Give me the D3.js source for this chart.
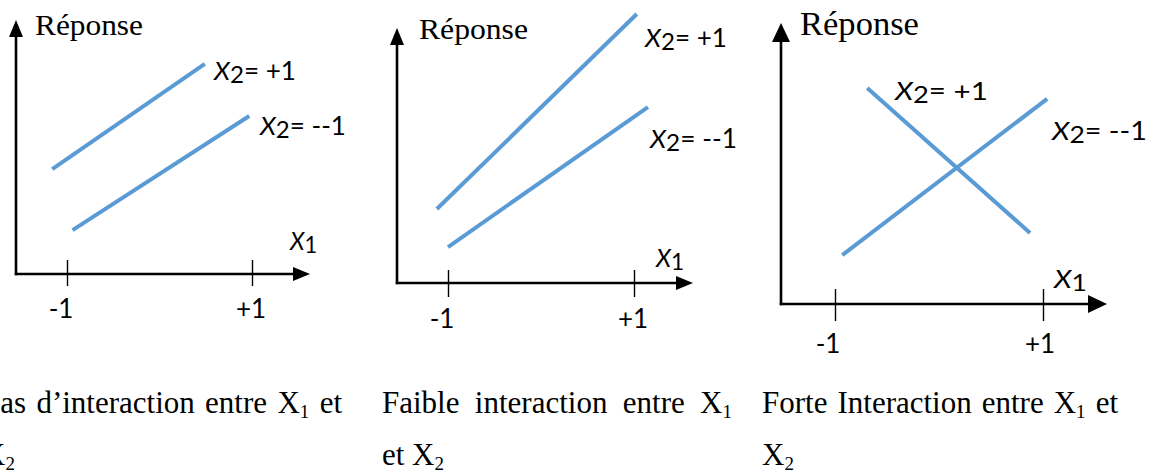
<!DOCTYPE html>
<html>
<head>
<meta charset="utf-8">
<script src="https://cdn.jsdelivr.net/npm/d3@7"></script>
<style>
  html, body { margin: 0; padding: 0; background: #fff; overflow: hidden; }
  svg { display: block; }
</style>
</head>
<body>
<svg id="chart" width="1160" height="473"></svg>
<script>
// Levels of factor X1 marked on each horizontal axis
const x1Levels = [-1, 1];
const x1TickLabels = ["-1", "+1"];

// Levels of factor X2 (one line each) and their label values
const x2Levels = ["+1", "-1"];
const x2LabelValues = ["+1", "--1"];

// Response segments, as [X1, response] at each end (response 0 = horizontal axis, 10 = top of vertical axis)
const noInteractionPlus = [[-1.16, 4.13], [0.49, 8.27]];
const noInteractionMinus = [[-0.94, 1.73], [0.97, 6.22]];
const weakInteractionPlus = [[-1.12, 2.90], [1.03, 10.55]];
const weakInteractionMinus = [[-1.00, 1.41], [1.15, 6.90]];
const strongInteractionPlus = [[-0.69, 7.69], [0.875, 2.53]];
const strongInteractionMinus = [[-0.93, 1.74], [1.04, 7.30]];

// Captions under each diagram: justified first line, then last line
const captionLines = [
  [["Pas d\u2019interaction entre X", "1", " et"], ["X", "2", ""]],
  [["Faible interaction entre X", "1", ""], ["et X", "2", ""]],
  [["Forte Interaction entre X", "1", " et"], ["X", "2", ""]]
];

const BLUE = "#5b9bd5";
const SERIF = "'Liberation Serif', 'Times New Roman', serif";
const SANS = "Lato, 'Open Sans', 'Noto Sans', sans-serif";

// Geometry of each diagram
const panels = [
  {
    series: [noInteractionPlus, noInteractionMinus],
    axisX: 16, axisY: 274, arrowRight: 310, arrowTop: 20,
    tickPx: [67, 252], tickUp: 14, tickDown: 12, arrowLen: 17, arrowHalf: 7,
    yLabel: { x: 35, y: 35, w: 108 }, yLabelSize: 29,
    x1Label: { x: 290, y: 250, w: 28 },
    x2Label: [{ x: 214, y: 80, w: 83 }, { x: 260, y: 135, w: 87 }],
    tickLabelY: 318, tickLabelDx: [-6, -1]
  },
  {
    series: [weakInteractionPlus, weakInteractionMinus],
    axisX: 397, axisY: 283, arrowRight: 693, arrowTop: 28,
    tickPx: [448, 634], tickUp: 13, tickDown: 14, arrowLen: 17, arrowHalf: 7,
    yLabel: { x: 419, y: 39, w: 109 }, yLabelSize: 29,
    x1Label: { x: 656, y: 267, w: 29 },
    x2Label: [{ x: 645, y: 47, w: 83 }, { x: 650, y: 148, w: 88 }],
    tickLabelY: 328, tickLabelDx: [-6, -1]
  },
  {
    series: [strongInteractionPlus, strongInteractionMinus],
    axisX: 781, axisY: 304, arrowRight: 1107, arrowTop: 23,
    tickPx: [835, 1043], tickUp: 15, tickDown: 17, arrowLen: 19, arrowHalf: 9,
    yLabel: { x: 800, y: 35, w: 119 }, yLabelSize: 33,
    x1Label: { x: 1054, y: 288, w: 34 },
    x2Label: [{ x: 895, y: 100, w: 94 }, { x: 1052, y: 140, w: 96 }],
    tickLabelY: 353, tickLabelDx: [-7, -3]
  }
];

const captionLayout = [
  { x: -17, end: 342 },
  { x: 382, end: 732 },
  { x: 762, end: 1118 }
];
const captionBaselines = [413, 465];

const svg = d3.select("#chart");

// Place a text label and stretch it horizontally to the given width
function fitLabel(g, pos, parts, family, size) {
  const wrap = g.append("g");
  const t = wrap.append("text")
    .attr("x", 0).attr("y", 0)
    .attr("font-family", family)
    .attr("font-size", size)
    .attr("fill", "#000");
  parts.forEach(p => {
    const s = t.append("tspan").text(p.t);
    if (p.italic) s.attr("font-style", "italic");
    if (p.size) s.attr("font-size", p.size);
    if (p.dy) s.attr("dy", p.dy);
  });
  const w = t.node().getBBox().width;
  const k = pos.w ? pos.w / w : 1;
  wrap.attr("transform", `translate(${pos.x},${pos.y}) scale(${k},1)`);
  return wrap;
}

function arrowHead(g, tipX, tipY, dir, len, half) {
  const pts = dir === "up"
    ? [[tipX, tipY], [tipX - half, tipY + len], [tipX + half, tipY + len]]
    : [[tipX, tipY], [tipX - len, tipY - half], [tipX - len, tipY + half]];
  g.append("path")
    .attr("d", d3.line()(pts) + "Z")
    .attr("fill", "#000");
}

panels.forEach(p => {
  const g = svg.append("g");

  const x = d3.scaleLinear().domain(d3.extent(x1Levels)).range(p.tickPx);
  const y = d3.scaleLinear().domain([0, 10]).range([p.axisY, p.arrowTop]);

  // Horizontal axis with ticks at the X1 levels
  const xAxis = d3.axisBottom(x)
    .tickValues(x1Levels)
    .tickSize(0)
    .tickFormat("");
  const axG = g.append("g").attr("transform", `translate(0,${p.axisY})`).call(xAxis);
  axG.select(".domain").remove();
  axG.selectAll(".tick line")
    .attr("y1", -p.tickUp).attr("y2", p.tickDown)
    .attr("stroke", "#000").attr("stroke-width", 1.4);

  g.append("line")
    .attr("x1", p.axisX - 1.2).attr("x2", p.arrowRight - p.arrowLen + 2)
    .attr("y1", p.axisY).attr("y2", p.axisY)
    .attr("stroke", "#000").attr("stroke-width", 2.6);
  g.append("line")
    .attr("x1", p.axisX).attr("x2", p.axisX)
    .attr("y1", p.axisY + 1.2).attr("y2", y(10) + p.arrowLen - 2)
    .attr("stroke", "#000").attr("stroke-width", 2.6);
  arrowHead(g, p.arrowRight, p.axisY, "right", p.arrowLen, p.arrowHalf);
  arrowHead(g, p.axisX, y(10), "up", p.arrowLen, p.arrowHalf);

  // Tick labels
  x1Levels.forEach((v, i) => {
    g.append("text")
      .attr("x", x(v) + p.tickLabelDx[i])
      .attr("y", p.tickLabelY)
      .attr("text-anchor", "middle")
      .attr("font-family", SANS)
      .attr("font-size", 26)
      .text(x1TickLabels[i]);
  });

  // Response lines for each X2 level
  const line = d3.line().x(d => x(d[0])).y(d => y(d[1]));
  p.series.forEach(s => {
    g.append("path")
      .attr("d", line(s))
      .attr("fill", "none")
      .attr("stroke", BLUE)
      .attr("stroke-width", 4);
  });

  // Axis titles
  fitLabel(g, p.yLabel, [{ t: "Réponse" }], SERIF, p.yLabelSize);
  fitLabel(g, p.x1Label, [{ t: "X", italic: true }, { t: "1", dy: 3, size: 24 }], SANS, 26);

  // Line labels
  x2Levels.forEach((lvl, i) => {
    fitLabel(g, p.x2Label[i], [
      { t: "X", italic: true },
      { t: "2", dy: 3, size: 24 },
      { t: "= " + x2LabelValues[i], dy: -3 }
    ], SANS, 26);
  });
});

// Captions
captionLines.forEach((lines, c) => {
  const lay = captionLayout[c];
  lines.forEach((parts, li) => {
    const t = svg.append("text")
      .attr("x", lay.x).attr("y", captionBaselines[li])
      .attr("font-family", SERIF)
      .attr("font-size", 31)
      .attr("fill", "#000");
    t.append("tspan").text(parts[0]);
    t.append("tspan").attr("font-size", 19).attr("dy", 5).text(parts[1]);
    if (parts[2]) t.append("tspan").attr("dy", -5).text(parts[2]);
    if (li === 0) {
      // justify the first line across the column
      const nSpaces = (parts[0] + parts[2]).split(" ").length - 1;
      const natural = t.node().getComputedTextLength();
      const extra = (lay.end - lay.x - natural) / nSpaces;
      t.attr("word-spacing", extra);
    }
  });
});
</script>
</body>
</html>
